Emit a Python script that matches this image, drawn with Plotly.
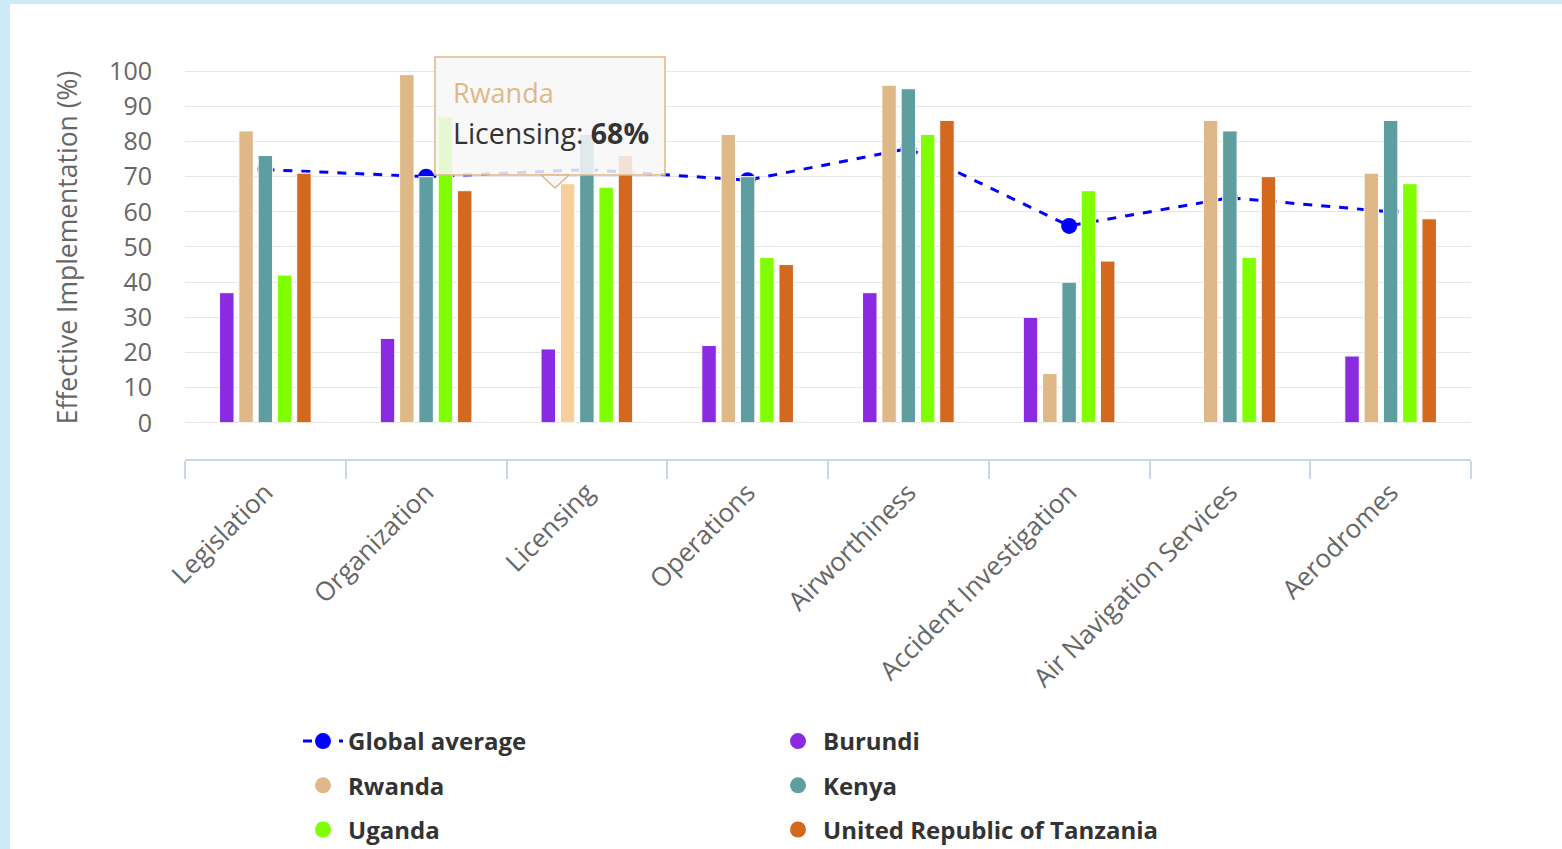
import plotly.graph_objects as go

categories = ["Legislation", "Organization", "Licensing", "Operations", "Airworthiness",
              "Accident Investigation", "Air Navigation Services", "Aerodromes"]
global_average = [72, 70, 72, 69, 78, 56, 64, 60]
burundi = [37, 24, 21, 22, 37, 30, None, 19]
rwanda = [83, 99, 68, 82, 96, 14, 86, 71]
kenya = [76, 70, 82, 70, 95, 40, 83, 86]
uganda = [42, 87, 67, 47, 82, 66, 47, 68]
tanzania = [71, 66, 76, 45, 86, 46, 70, 58]

y_ticks = [0, 10, 20, 30, 40, 50, 60, 70, 80, 90, 100, 110]
y_tick_labels = ["0", "10", "20", "30", "40", "50", "60", "70", "80", "90", "100", ""]

W, H = 1562, 849
ML, MR, MT, MB = 185, 91, 36, 390
PW, PH = W - ML - MR, H - MT - MB

def px(x):
    return (x - ML) / PW

def py(y):
    return (H - MB - y) / PH

bar_series = [
    ("Burundi", burundi, "#8a2be2"),
    ("Rwanda", rwanda, "#deb887"),
    ("Kenya", kenya, "#5f9ea0"),
    ("Uganda", uganda, "#7fff00"),
    ("United Republic of Tanzania", tanzania, "#d2691e"),
]

fig = go.Figure()

fig.add_trace(go.Scatter(
    x=categories, y=global_average, name="Global average", mode="lines+markers",
    line=dict(color="#0000ff", width=3, dash="dash"),
    marker=dict(color="#0000ff", size=16, symbol="circle"),
    xaxis="x", yaxis="y", legendgroup="ga",
))

legend_traces = []
bar_traces = []
for name, vals, color in bar_series:
    colors = [color] * len(categories)
    if name == "Rwanda":
        colors[categories.index("Licensing")] = "#f7cf9a"
    bar_traces.append(go.Bar(
        x=categories, y=vals, name=name, marker=dict(color=colors, line=dict(color="white", width=1)),
        xaxis="x", yaxis="y2", showlegend=False, legendgroup=name,
    ))
    legend_traces.append(go.Scatter(
        x=[categories[0]], y=[None], name=name, mode="markers",
        marker=dict(color=color, size=16, symbol="circle"),
        xaxis="x", yaxis="y", legendgroup=name, showlegend=True,
    ))

for t in legend_traces + bar_traces:
    fig.add_trace(t)

yrange = [-10.3, 110]
fig.update_layout(
    width=W, height=H,
    margin=dict(l=ML, r=MR, t=MT, b=MB, autoexpand=False),
    paper_bgcolor="#cdeaf6",
    plot_bgcolor="rgba(0,0,0,0)",
    font=dict(family="Open Sans, sans-serif", color="#666666"),
    barmode="group", bargap=0.4, bargroupgap=0.25,
    showlegend=True,
    legend=dict(
        orientation="h", x=px(298), y=py(719), xanchor="left", yanchor="top",
        entrywidth=420, entrywidthmode="pixels", itemwidth=40,
        font=dict(size=24, color="#333333", family="Open Sans, sans-serif", weight="bold"),
        bgcolor="rgba(0,0,0,0)", itemsizing="trace",
    ),
    xaxis=dict(
        type="category", categoryorder="array", categoryarray=categories,
        showline=True, linecolor="#ccd6eb", linewidth=1.5,
        ticks="outside", ticklen=18, tickcolor="#ccd6eb", tickwidth=1.5, tickson="boundaries",
        tickangle=-45, tickfont=dict(size=26, color="#666666"), ticklabelstandoff=6,
        showgrid=False, zeroline=False, automargin=False,
    ),
    yaxis=dict(
        range=yrange, tickvals=y_ticks, ticktext=y_tick_labels,
        showgrid=True, gridcolor="#e6e6e6", gridwidth=1, zeroline=False,
        tickfont=dict(size=25, color="#666666"), ticklabelstandoff=32,
        title=dict(text="Effective Implementation (%)", font=dict(size=26.5, color="#666666"), standoff=23),
        automargin=False,
    ),
    yaxis2=dict(
        range=yrange, overlaying="y", showgrid=False, zeroline=False,
        showticklabels=False, visible=False,
    ),
    shapes=[
        dict(type="rect", xref="paper", yref="paper", layer="below",
             x0=px(10), x1=px(W + 5), y0=py(H + 5), y1=py(4),
             fillcolor="white", line=dict(width=0)),
        dict(type="rect", xref="paper", yref="paper", layer="above",
             x0=px(435), x1=px(665), y0=py(175), y1=py(57),
             fillcolor="rgba(247,247,247,0.85)", line=dict(color="#deb887", width=1.5)),
        dict(type="path", xref="paper", yref="paper", layer="above",
             path=f"M {px(541)},{py(175)} L {px(555)},{py(188)} L {px(569)},{py(175)} Z",
             fillcolor="rgba(247,247,247,0.95)", line=dict(color="#deb887", width=1.5)),
    ],
    annotations=[
        dict(xref="paper", yref="paper", x=px(451), y=py(93), xanchor="left", yanchor="middle",
             text="Rwanda", showarrow=False, font=dict(size=27, color="#deb887")),
        dict(xref="paper", yref="paper", x=px(451), y=py(133), xanchor="left", yanchor="middle",
             text="Licensing: <b>68%</b>", showarrow=False, font=dict(size=28.5, color="#333333")),
    ],
)

fig.write_html("out.html", config={"displayModeBar": False},
               post_script="document.body.style.margin='0';")
